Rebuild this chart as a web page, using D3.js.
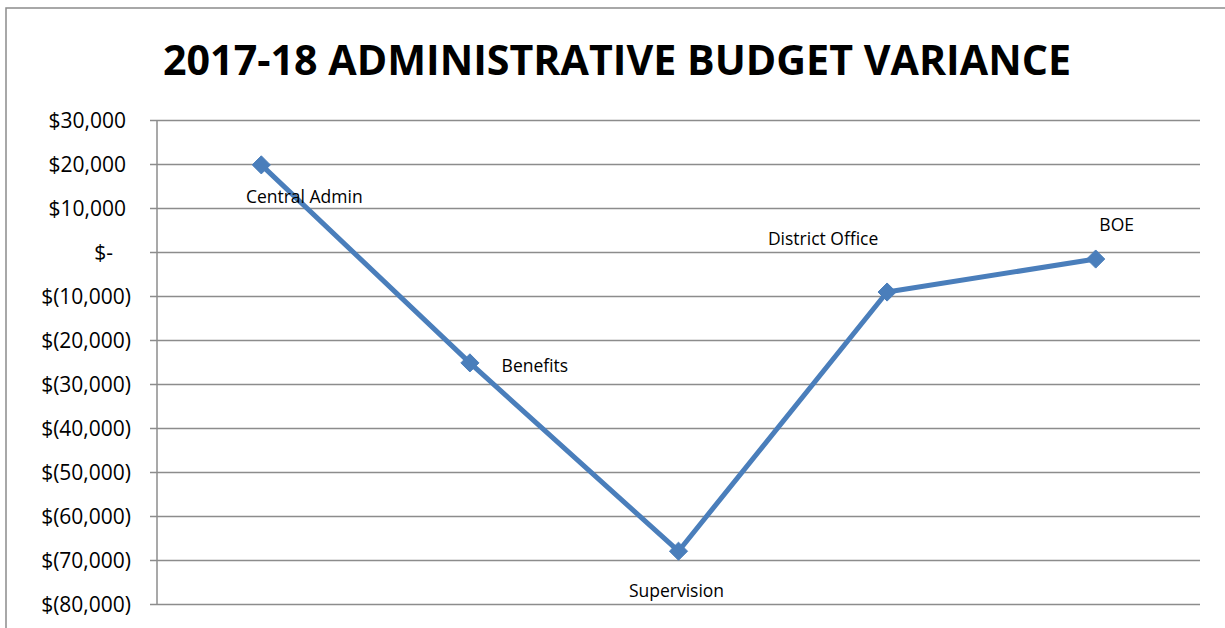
<!DOCTYPE html>
<html>
<head>
<meta charset="utf-8">
<script src="https://cdn.jsdelivr.net/npm/d3@7"></script>
<style>
  body { margin: 0; background: #fff; }
  svg { display: block; }
</style>
</head>
<body>
<script>
// data
var categories = ["Central Admin", "Benefits", "Supervision", "District Office", "BOE"];
var variance = [19800, -25200, -68000, -9100, -1600];
var yTicks = [30000, 20000, 10000, 0, -10000, -20000, -30000, -40000, -50000, -60000, -70000, -80000];
var chartTitle = "2017-18 ADMINISTRATIVE BUDGET VARIANCE";

// where Excel put each data label, relative to its point
var labelShift = [[43, 38], [65, 9], [-2, 46], [-64, -47], [21, -28]];

var W = 1225, H = 628;
var margin = {top: 120, right: 25, bottom: 24, left: 157};

var svg = d3.select("body").append("svg")
    .attr("width", W)
    .attr("height", H);

// chart border
svg.append("rect")
    .attr("x", 6).attr("y", 8)
    .attr("width", W + 10).attr("height", H + 10)
    .attr("fill", "none")
    .attr("stroke", "#8c8c8c")
    .attr("stroke-width", 1.5);

svg.append("text")
    .attr("x", 617).attr("y", 75)
    .attr("text-anchor", "middle")
    .attr("font-family", "Open Sans, sans-serif")
    .attr("font-weight", "bold")
    .attr("font-size", 42)
    .attr("textLength", 908)
    .attr("lengthAdjust", "spacingAndGlyphs")
    .attr("fill", "#000")
    .text(chartTitle);

var x = d3.scaleBand()
    .domain(categories)
    .range([margin.left, W - margin.right]);

var y = d3.scaleLinear()
    .domain([-80000, 30000])
    .range([H - margin.bottom, margin.top]);

function money(v) {
    if (v === 0) return "$-";
    var s = d3.format(",")(Math.abs(v));
    return v < 0 ? "$(" + s + ")" : "$" + s;
}

// accounting format: positives leave room for ")", zero leaves two digits more
function accountingPad(v) {
    if (v === 0) return -18;
    return v > 0 ? -5 : 0;
}

// gridlines + tick labels
var yAxis = d3.axisLeft(y)
    .tickValues(yTicks)
    .tickSize(-(W - margin.right - margin.left))
    .tickPadding(0)
    .tickFormat(money);

var ga = svg.append("g")
    .attr("transform", "translate(" + margin.left + ",0)")
    .call(yAxis);
ga.select(".domain").remove();
ga.selectAll(".tick line")
    .attr("x1", -7)
    .attr("stroke", "#8c8c8c")
    .attr("stroke-width", 1.5);
ga.selectAll(".tick text")
    .attr("x", function(d) { return -26 + accountingPad(d); })
    .attr("dy", "0.36em")
    .attr("font-family", "Open Sans, sans-serif")
    .attr("font-weight", "normal")
    .attr("font-size", 21)
    .attr("fill", "#000");

// vertical axis line
svg.append("line")
    .attr("x1", margin.left).attr("x2", margin.left)
    .attr("y1", y(30000)).attr("y2", y(-80000))
    .attr("stroke", "#8c8c8c")
    .attr("stroke-width", 1.5);

var pts = categories.map(function(c, i) {
    return {cat: c, v: variance[i], i: i};
});

var line = d3.line()
    .x(function(d) { return x(d.cat) + x.bandwidth() / 2; })
    .y(function(d) { return y(d.v); });

svg.append("path")
    .datum(pts)
    .attr("d", line)
    .attr("fill", "none")
    .attr("stroke", "#4a7ebb")
    .attr("stroke-width", 5)
    .attr("stroke-linejoin", "round");

svg.selectAll(".marker")
    .data(pts)
  .enter().append("path")
    .attr("class", "marker")
    .attr("d", d3.symbol().type(d3.symbolDiamond2).size(210))
    .attr("transform", function(d) {
        return "translate(" + (x(d.cat) + x.bandwidth() / 2) + "," + y(d.v) + ")";
    })
    .attr("fill", "#4a7ebb")
    .attr("stroke", "#4a7ebb")
    .attr("stroke-width", 1);

svg.selectAll(".lbl")
    .data(pts)
  .enter().append("text")
    .attr("class", "lbl")
    .attr("x", function(d) { return x(d.cat) + x.bandwidth() / 2 + labelShift[d.i][0]; })
    .attr("y", function(d) { return y(d.v) + labelShift[d.i][1]; })
    .attr("text-anchor", "middle")
    .attr("font-family", "Open Sans, sans-serif")
    .attr("font-size", 17.5)
    .attr("fill", "#000")
    .text(function(d) { return d.cat; });
</script>
</body>
</html>
